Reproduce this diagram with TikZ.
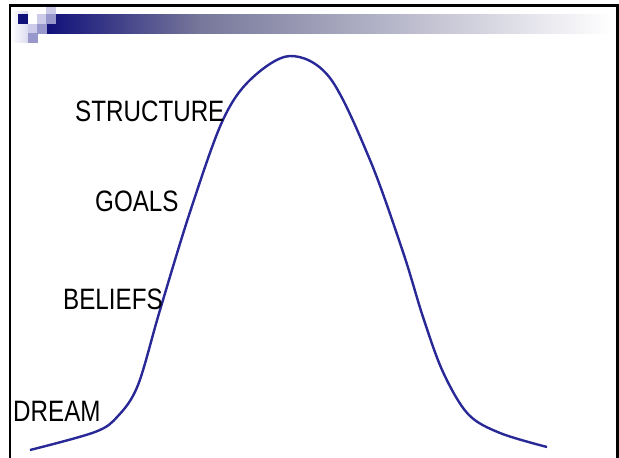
\documentclass[tikz,border=0pt]{standalone}
\usepackage{fontspec}
\setmainfont{Liberation Sans}[FakeStretch=0.82]
\usetikzlibrary{positioning}
\definecolor{navy}{RGB}{16,16,122}
\definecolor{lilac}{RGB}{204,204,234}
\definecolor{midlilac}{RGB}{152,152,204}
\definecolor{fadegray}{RGB}{119,119,155}
\definecolor{curveblue}{RGB}{40,40,150}
\tikzset{stagetext/.style={anchor=south west,inner sep=0pt,font=\fontsize{29.5}{30}\selectfont}}

\begin{document}
\begin{tikzpicture}[x=1pt,y=-1pt]
\useasboundingbox (0,0) rectangle (619,458);
\clip (0,0) rectangle (619,458);
% title bar
\shade[left color=navy, right color=fadegray] (46,14) rectangle (200,33);
\shade[left color=fadegray, right color=white] (200,14) rectangle (612,33);
\shade[left color=white, right color=lilac!70] (11,11) rectangle (28,42);
\foreach \x/\y/\c in {46/5/lilac, 18/14/navy, 37/14/lilac, 46/14/midlilac,
	28/24/lilac, 37/24/midlilac, 28/33/midlilac}
	\fill[\c] (\x,\y) rectangle +(9.5,9.5);
% frame
\draw[line width=2.5pt] (10,470) -- (10,5.5) -- (617.5,5.5) -- (617.5,470);
% the curve
\draw[curveblue, line width=2.4pt] plot[smooth, tension=0.55] coordinates {(30,450) (95,432)
	(118,416) (138,385) (160,310) (190,212) (222,122) (250,80) (290,56)
	(330,78) (370,160) (403,252) (423,317) (443,372) (468,414) (500,433) (547,447)};
% stages
\node[stagetext] (dream) at (13,422) {DREAM};
\node[stagetext] (beliefs) at (63,310) {BELIEFS};
\node[stagetext] (goals) at (95,212) {GOALS};
\node[stagetext] (structure) at (75,122) {STRUCTURE};
\end{tikzpicture}
\end{document}
